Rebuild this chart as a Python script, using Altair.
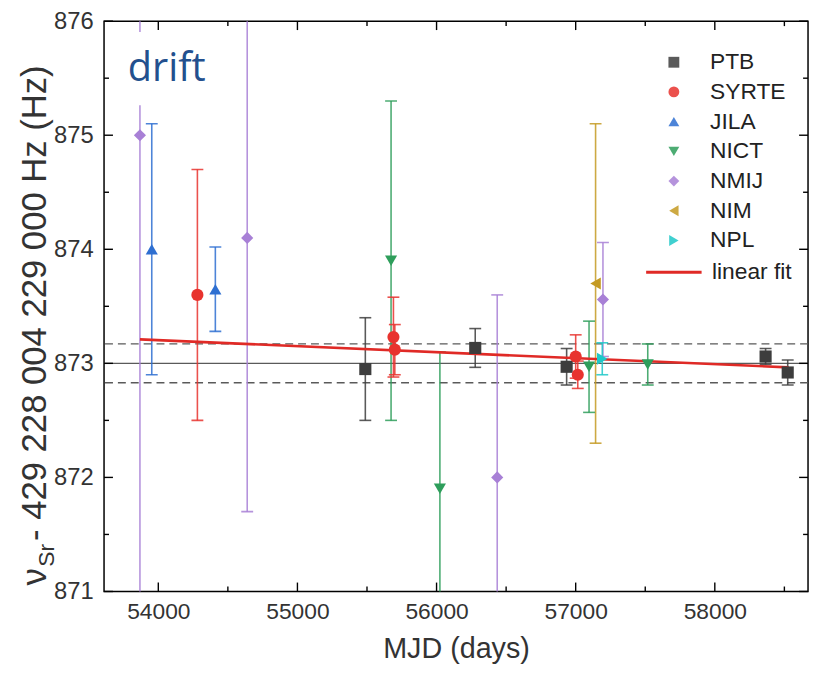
import altair as alt
import pandas as pd

# ---------------- data ----------------
orgs = ["PTB", "SYRTE", "JILA", "NICT", "NMIJ", "NIM", "NPL"]
org_colors = ["#3d3d3d", "#e8332e", "#2e6fd1", "#2e9e5b", "#a880d6", "#c49a22", "#1ec8c8"]
org_shapes = ["square", "circle", "triangle-up", "triangle-down", "diamond",
              "triangle-left", "triangle-right"]

ptb_mjd = [55488, 56278, 56935, 58365, 58524]
ptb_val = [872.95, 873.135, 872.97, 873.06, 872.92]
ptb_err = [0.45, 0.17, 0.16, 0.07, 0.11]

syrte_mjd = [54281, 55690, 55700, 57000, 57015]
syrte_val = [873.60, 873.23, 873.12, 873.06, 872.90]
syrte_err = [1.10, 0.35, 0.22, 0.19, 0.12]

jila_mjd = [53953, 54410]
jila_val = [874.00, 873.65]
jila_err = [1.10, 0.37]

nict_mjd = [55673, 56024, 57096, 57518]
nict_val = [873.90, 871.90, 872.97, 872.99]
nict_err = [1.40, 1.20, 0.40, 0.18]

nmij_mjd = [53868, 54639, 56436, 57196]
nmij_val = [875.00, 874.10, 872.00, 873.56]
nmij_err = [4.30, 2.40, 1.60, 0.50]

nim_mjd = [57143]
nim_val = [873.70]
nim_err = [1.40]

npl_mjd = [57191]
npl_val = [873.04]
npl_err = [0.14]

fit_label = ["linear fit"]
fit_mjd = [53868, 58530]
fit_val = [873.21, 872.965]

mean_val = [873.0]
band_val = [873.17, 872.83]

x_major = [54000, 55000, 56000, 57000, 58000]
x_minor = [54500, 55500, 56500, 57500, 58500]
y_major = [871, 872, 873, 874, 875, 876]
y_minor = [871.5, 872.5, 873.5, 874.5, 875.5]

x_domain = [53610, 58670]
y_domain = [871, 876]

# ---------------- tables ----------------
rows = []
for org, m, v, e in [
    ("PTB", ptb_mjd, ptb_val, ptb_err),
    ("SYRTE", syrte_mjd, syrte_val, syrte_err),
    ("JILA", jila_mjd, jila_val, jila_err),
    ("NICT", nict_mjd, nict_val, nict_err),
    ("NMIJ", nmij_mjd, nmij_val, nmij_err),
    ("NIM", nim_mjd, nim_val, nim_err),
    ("NPL", npl_mjd, npl_val, npl_err),
]:
    for mi, vi, ei in zip(m, v, e):
        rows.append({"org": org, "mjd": mi, "val": vi, "lo": vi - ei, "hi": vi + ei})
df = pd.DataFrame(rows)
df["ecol"] = df["org"].map(dict(zip(orgs, org_colors)))

fit_df = pd.DataFrame({"name": fit_label * len(fit_mjd), "mjd": fit_mjd, "val": fit_val})

W, H = 711, 576
FONT = "Liberation Sans, Arial, sans-serif"

xs = alt.Scale(domain=x_domain, nice=False, zero=False)
ys = alt.Scale(domain=y_domain, nice=False, zero=False)

xaxis = alt.Axis(values=x_major, format="d", ticks=False, domain=False, grid=False,
                 labelFont=FONT, labelFontSize=23, labelColor="#333", labelPadding=9,
                 titleFont=FONT, titleFontSize=29, titleFontWeight="normal",
                 titleColor="#333", titlePadding=12)
yaxis = alt.Axis(values=y_major, format="d", ticks=False, domain=False, grid=False,
                 labelFont=FONT, labelFontSize=24, labelColor="#333", labelPadding=11,
                 title=None)


def X(field="mjd"):
    return alt.X(f"{field}:Q", scale=xs, axis=xaxis, title="MJD (days)")


def Y(field="val"):
    return alt.Y(f"{field}:Q", scale=ys, axis=yaxis, title=None)


color_scale = alt.Scale(domain=orgs, range=org_colors)
shape_scale = alt.Scale(domain=orgs, range=org_shapes)

pt_legend = alt.Legend(title=None, orient="none", legendX=564, legendY=30,
                       labelFont=FONT, labelFontSize=23, labelColor="#222",
                       labelOffset=25, rowPadding=6, symbolSize=120,
                       symbolStrokeWidth=0)

# reference lines
mean_rule = alt.Chart(pd.DataFrame({"val": mean_val})).mark_rule(
    color="#5a5a5a", strokeWidth=1.3).encode(y=Y())
band_rule = alt.Chart(pd.DataFrame({"val": band_val})).mark_rule(
    color="#5a5a5a", strokeWidth=1.3, strokeDash=[8, 5]).encode(y=Y())

# error bars
err_rule = alt.Chart(df).mark_rule(strokeWidth=1.6, clip=True, opacity=0.85).encode(
    x=X(), y=Y("lo"), y2="hi:Q", color=alt.Color("ecol:N", scale=None))
cap_lo = alt.Chart(df).mark_tick(orient="horizontal", size=12, thickness=1.6,
                                 clip=True, opacity=0.85).encode(
    x=X(), y=Y("lo"), color=alt.Color("ecol:N", scale=None))
cap_hi = alt.Chart(df).mark_tick(orient="horizontal", size=12, thickness=1.6,
                                 clip=True, opacity=0.85).encode(
    x=X(), y=Y("hi"), color=alt.Color("ecol:N", scale=None))

# white box behind the label
box = alt.Chart(pd.DataFrame({"k": [0]})).mark_rect(color="white").encode(
    x=alt.value(10), x2=alt.value(133), y=alt.value(11), y2=alt.value(85))
drift = alt.Chart(pd.DataFrame({"t": ["drift"]})).mark_text(
    font="Open Sans", fontSize=40, color="#23508e", align="left",
    baseline="alphabetic").encode(x=alt.value(24), y=alt.value(60), text="t:N")

# fit line
fit = alt.Chart(fit_df).mark_line(strokeWidth=2.6).encode(
    x=X(), y=Y(),
    stroke=alt.Stroke("name:N", scale=alt.Scale(domain=fit_label, range=["#e02a26"]),
                      legend=alt.Legend(title=None, orient="none", legendX=546,
                                        legendY=224, labelFont=FONT, labelFontSize=23,
                                        labelColor="#222", labelOffset=9,
                                        symbolSize=3136, symbolStrokeWidth=3)))

# points
pts = alt.Chart(df).mark_point(filled=True, size=150, opacity=1).encode(
    x=X(), y=Y(),
    color=alt.Color("org:N", scale=color_scale, legend=pt_legend),
    shape=alt.Shape("org:N", scale=shape_scale, legend=pt_legend))

# inward ticks on all four sides
def vticks(vals, length, top):
    d = pd.DataFrame({"mjd": vals})
    if top:
        return alt.Chart(d).mark_rule(color="black", strokeWidth=1.4).encode(
            x=X(), y=alt.value(0), y2=alt.value(length))
    return alt.Chart(d).mark_rule(color="black", strokeWidth=1.4).encode(
        x=X(), y=alt.value(H), y2=alt.value(H - length))


def hticks(vals, length, left):
    d = pd.DataFrame({"val": vals})
    if left:
        return alt.Chart(d).mark_rule(color="black", strokeWidth=1.4).encode(
            y=Y(), x=alt.value(0), x2=alt.value(length))
    return alt.Chart(d).mark_rule(color="black", strokeWidth=1.4).encode(
        y=Y(), x=alt.value(W), x2=alt.value(W - length))


tick_layers = [
    vticks(x_major, 9, False), vticks(x_minor, 5, False),
    vticks(x_major, 9, True), vticks(x_minor, 5, True),
    hticks(y_major, 9, True), hticks(y_minor, 5, True),
    hticks(y_major, 9, False), hticks(y_minor, 5, False),
]

# y axis title with subscript
yt_main = alt.Chart(pd.DataFrame({"t": ["- 429 228 004 229 000 Hz (Hz)"]})).mark_text(
    font=FONT, fontSize=35, color="#333", angle=270, align="left",
    baseline="alphabetic").encode(x=alt.value(-59), y=alt.value(525), text="t:N")
yt_nu = alt.Chart(pd.DataFrame({"t": ["ν"]})).mark_text(
    font=FONT, fontSize=35, color="#333", angle=270, align="left",
    baseline="alphabetic").encode(x=alt.value(-59), y=alt.value(570), text="t:N")
yt_sub = alt.Chart(pd.DataFrame({"t": ["Sr"]})).mark_text(
    font=FONT, fontSize=23, color="#333", angle=270, align="left",
    baseline="alphabetic").encode(x=alt.value(-51), y=alt.value(551), text="t:N")

chart = alt.layer(
    mean_rule, band_rule, err_rule, cap_lo, cap_hi, fit, pts, box, drift,
    *tick_layers, yt_main, yt_nu, yt_sub
).properties(
    width=W, height=H,
    padding={"left": 97, "top": 10, "right": 3, "bottom": 74},
    autosize=alt.AutoSizeParams(type="none"),
).configure_view(stroke="black", strokeWidth=1.5)

chart.save("out.html", embed_options={"renderer": "svg", "actions": False})
